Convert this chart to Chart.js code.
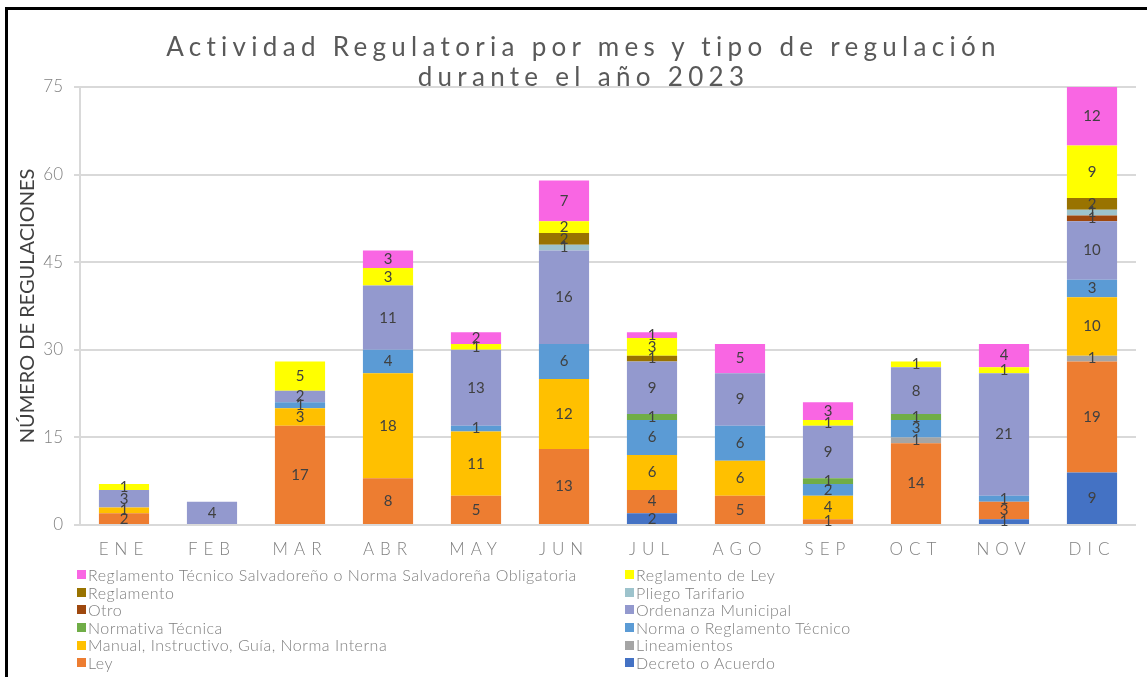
<!DOCTYPE html>
<html>
<head>
<meta charset="utf-8">
<title>Actividad Regulatoria 2023</title>
<script src="https://cdn.jsdelivr.net/npm/chart.js@4.4.0/dist/chart.umd.min.js"></script>
<style>
    html, body { margin: 0; padding: 0; background: #fff; }
    body { width: 1147px; height: 677px; position: relative; overflow: hidden; font-family: Lato, sans-serif; }
    #marco { position: absolute; left: 5px; top: 7px; width: 1200px; height: 720px; border-left: 3px solid #000; border-top: 3px solid #000; }
    #grafico { position: absolute; left: 0; top: 0; }
    #titulo { position: absolute; left: 10px; top: 31px; width: 1147px; text-align: center; font-size: 26px; line-height: 30px; letter-spacing: 5.3px; color: #595959; }
    #leyenda { position: absolute; left: 77px; top: 566px; display: grid; grid-template-columns: 548px auto; font-size: 16px; font-weight: 300; letter-spacing: 0.5px; line-height: 17.6px; color: #7f7f7f; }
    #leyenda .item { display: flex; align-items: center; white-space: nowrap; }
    #leyenda .cuadro { display: inline-block; width: 9px; height: 9px; margin-right: 2px; }
</style>
</head>
<body>
<div id="marco"></div>
<canvas id="grafico" width="1147" height="677"></canvas>
<div id="titulo">Actividad Regulatoria por mes y tipo de regulación<br>durante el año 2023</div>
<div id="leyenda"></div>
<script>
var meses = ['ENE', 'FEB', 'MAR', 'ABR', 'MAY', 'JUN', 'JUL', 'AGO', 'SEP', 'OCT', 'NOV', 'DIC'];

// valores por tipo de regulación (de abajo hacia arriba en la pila)
var decreto       = [0, 0, 0, 0, 0, 0, 2, 0, 0, 0, 1, 9];
var ley           = [2, 0, 17, 8, 5, 13, 4, 5, 1, 14, 3, 19];
var lineamientos  = [0, 0, 0, 0, 0, 0, 0, 0, 0, 1, 0, 1];
var manual        = [1, 0, 3, 18, 11, 12, 6, 6, 4, 0, 0, 10];
var norma         = [0, 0, 1, 4, 1, 6, 6, 6, 2, 3, 1, 3];
var normativa     = [0, 0, 0, 0, 0, 0, 1, 0, 1, 1, 0, 0];
var ordenanza     = [3, 4, 2, 11, 13, 16, 9, 9, 9, 8, 21, 10];
var otro          = [0, 0, 0, 0, 0, 0, 0, 0, 0, 0, 0, 1];
var pliego        = [0, 0, 0, 0, 0, 1, 0, 0, 0, 0, 0, 1];
var reglamento    = [0, 0, 0, 0, 0, 2, 1, 0, 0, 0, 0, 2];
var reglamentoLey = [1, 0, 5, 3, 1, 2, 3, 0, 1, 1, 1, 9];
var rts           = [0, 0, 0, 3, 2, 7, 1, 5, 3, 0, 4, 12];

var nombres = ['Decreto o Acuerdo', 'Ley', 'Lineamientos', 'Manual, Instructivo, Guía, Norma Interna',
    'Norma o Reglamento Técnico', 'Normativa Técnica', 'Ordenanza Municipal', 'Otro', 'Pliego Tarifario',
    'Reglamento', 'Reglamento de Ley', 'Reglamento Técnico Salvadoreño o Norma Salvadoreña Obligatoria'];
var series = [decreto, ley, lineamientos, manual, norma, normativa, ordenanza, otro, pliego, reglamento, reglamentoLey, rts];
var colores = ['#4472C4', '#ED7D31', '#A5A5A5', '#FFC000', '#5B9BD5', '#70AD47', '#9399CE', '#9E480E', '#9DC3CC', '#997300', '#FFFF00', '#F966E3'];

var datasets = [];
series.forEach(function (valores, i) {
    datasets.push({
        label: nombres[i],
        data: valores,
        backgroundColor: colores[i],
        borderWidth: 0,
        barPercentage: 0.57,
        categoryPercentage: 1
    });
});

// numero centrado en cada tramo de la barra
var etiquetas = {
    id: 'etiquetas',
    afterDatasetsDraw: function (chart) {
        var c = chart.ctx;
        var area = chart.chartArea;
        c.save();
        c.font = '15px Lato';
        c.fillStyle = '#404040';
        c.textAlign = 'center';
        c.textBaseline = 'middle';
        chart.data.datasets.forEach(function (ds, i) {
            chart.getDatasetMeta(i).data.forEach(function (bar, j) {
                if (!ds.data[j]) return;
                var arriba = Math.max(bar.y, area.top);
                c.fillText(ds.data[j], bar.x, (arriba + bar.base) / 2);
            });
        });
        c.restore();
    }
};

// meses con letras espaciadas
var espaciado = {
    id: 'espaciado',
    beforeDraw: function (chart) {
        var x = chart.scales.x;
        if (x._espaciado) return;
        var dibujar = x.drawLabels;
        x.drawLabels = function (area) {
            var c = this.ctx;
            c.save();
            c.letterSpacing = '6px';
            dibujar.call(this, area);
            c.restore();
        };
        x._espaciado = true;
    }
};

var ctx = document.getElementById('grafico');
var myChart = new Chart(ctx, {
    type: 'bar',
    data: { labels: meses, datasets: datasets },
    plugins: [etiquetas, espaciado],
    options: {
        responsive: false,
        animation: false,
        layout: { padding: { top: 87, right: 11, bottom: 0, left: 0 } },
        plugins: {
            legend: { display: false },
            title: { display: false },
            tooltip: { enabled: false }
        },
        scales: {
            x: {
                stacked: true,
                grid: { display: false, drawTicks: false },
                border: { display: false },
                ticks: { color: '#808080', font: { family: 'Lato', size: 17, weight: 300 }, padding: 14 },
                afterFit: function (s) { s.height = 152; }
            },
            y: {
                stacked: true,
                min: 0,
                max: 75,
                ticks: { stepSize: 15, color: '#808080', font: { family: 'Lato', size: 17, weight: 300 }, padding: 11 },
                grid: { color: '#d9d9d9', lineWidth: 2, tickLength: 6 },
                border: { color: '#d9d9d9', width: 2 },
                title: {
                    display: true,
                    text: 'NÚMERO DE REGULACIONES',
                    color: '#404040',
                    font: { family: 'Lato', size: 20 },
                    padding: { top: 16, bottom: 0 }
                },
                afterFit: function (s) { s.width = 80; }
            }
        }
    }
});

// leyenda en dos columnas, en orden inverso a la pila
var leyenda = document.getElementById('leyenda');
for (var k = datasets.length - 1; k >= 0; k--) {
    leyenda.innerHTML += '<div class="item"><span class="cuadro" style="background:' + datasets[k].backgroundColor + '"></span>' + datasets[k].label + '</div>';
}
</script>
</body>
</html>
